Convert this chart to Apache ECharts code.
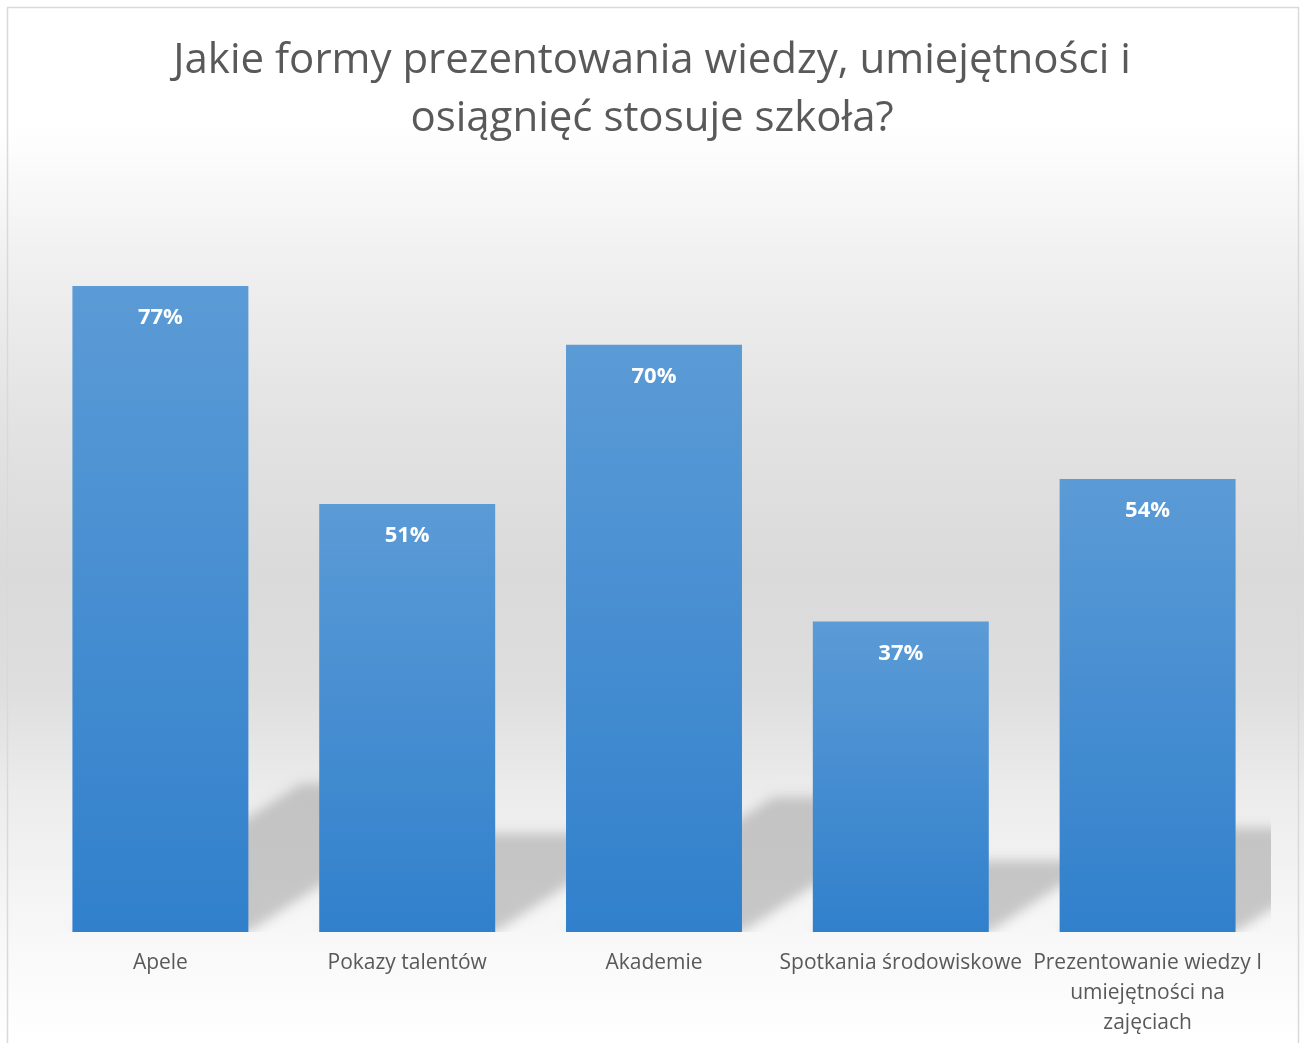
<!DOCTYPE html>
<html>
<head>
<meta charset="utf-8">
<script src="https://cdn.jsdelivr.net/npm/echarts@6/dist/echarts.min.js"></script>
<style>
  html, body { margin: 0; padding: 0; background: #fff; }
  #chart { width: 1304px; height: 1043px; }
</style>
</head>
<body>
<div id="chart"></div>
<script>
const titleText = 'Jakie formy prezentowania wiedzy, umiejętności i\nosiągnięć stosuje szkoła?';
const categories = ['Apele', 'Pokazy talentów', 'Akademie', 'Spotkania środowiskowe', 'Prezentowanie wiedzy I\numiejętności na\nzajęciach'];
const values = [77, 51, 70, 37, 54];

const FONT = '"Open Sans", "Noto Sans", sans-serif';
const chart = echarts.init(document.getElementById('chart'));

const SHADOW_RATIO = 0.23;
const SLOPE = 0.65;
const FAR = 4000;

chart.setOption({
  backgroundColor: {
    type: 'linear', x: 0, y: 0, x2: 0, y2: 1,
    colorStops: [
      { offset: 0.0, color: '#ffffff' },
      { offset: 0.12, color: '#ffffff' },
      { offset: 0.26, color: '#efefef' },
      { offset: 0.40, color: '#e3e3e3' },
      { offset: 0.55, color: '#dadada' },
      { offset: 0.66, color: '#dedede' },
      { offset: 0.76, color: '#ececec' },
      { offset: 0.90, color: '#f8f8f8' },
      { offset: 1.0, color: '#ffffff' }
    ]
  },
  title: {
    text: titleText,
    left: 'center',
    top: 27,
    textStyle: {
      fontFamily: FONT,
      fontSize: 42,
      fontWeight: 'normal',
      color: '#595959',
      lineHeight: 58
    }
  },
  graphic: [{
    type: 'rect',
    shape: { x: 7.5, y: 7.5, width: 1291, height: 1040 },
    style: { fill: 'none', stroke: '#d9d9d9', lineWidth: 1.5 },
    silent: true, z: 100
  }],
  grid: { left: 37, top: 93, width: 1234, height: 839, containLabel: false },
  xAxis: {
    type: 'category',
    data: categories,
    axisLine: { show: false },
    axisTick: { show: false },
    axisLabel: {
      interval: 0,
      margin: 16,
      fontFamily: FONT,
      fontSize: 21,
      color: '#595959',
      lineHeight: 30
    }
  },
  yAxis: {
    type: 'value', min: 0, max: 100,
    show: false,
    splitLine: { show: false }
  },
  series: [
    {
      type: 'custom',
      z: 1,
      clip: true,
      silent: true,
      data: values.map((v, i) => [i, v]),
      renderItem: function (params, api) {
        const idx = api.value(0);
        const v = api.value(1);
        const base = api.coord([idx, 0]);
        const top = api.coord([idx, v]);
        const w = api.size([1, 0])[0] * 0.713;
        const h = base[1] - top[1];
        const sh = h * SHADOW_RATIO;
        const dx = sh / SLOPE;
        const x0 = base[0] - w / 2, x1 = base[0] + w / 2, y0 = base[1];
        return {
          type: 'polygon',
          shape: {
            points: [
              [x0 - FAR, y0], [x1 - FAR, y0],
              [x1 + dx - FAR, y0 - sh], [x0 + dx - FAR, y0 - sh]
            ]
          },
          style: {
            fill: '#c4c4c4',
            shadowColor: 'rgba(175,175,175,0.68)',
            shadowBlur: 12,
            shadowOffsetX: FAR,
            shadowOffsetY: 0
          }
        };
      }
    },
    {
      type: 'bar',
      z: 2,
      data: values,
      barWidth: '71.3%',
      itemStyle: {
        color: {
          type: 'linear', x: 0, y: 0, x2: 0, y2: 1,
          colorStops: [
            { offset: 0, color: '#5b9bd6' },
            { offset: 1, color: '#3180cc' }
          ]
        }
      },
      label: {
        show: true,
        position: 'insideTop',
        distance: 21,
        formatter: '{c}%',
        fontFamily: FONT,
        fontSize: 22,
        fontWeight: 'bold',
        color: '#ffffff'
      }
    }
  ]
});
</script>
</body>
</html>
